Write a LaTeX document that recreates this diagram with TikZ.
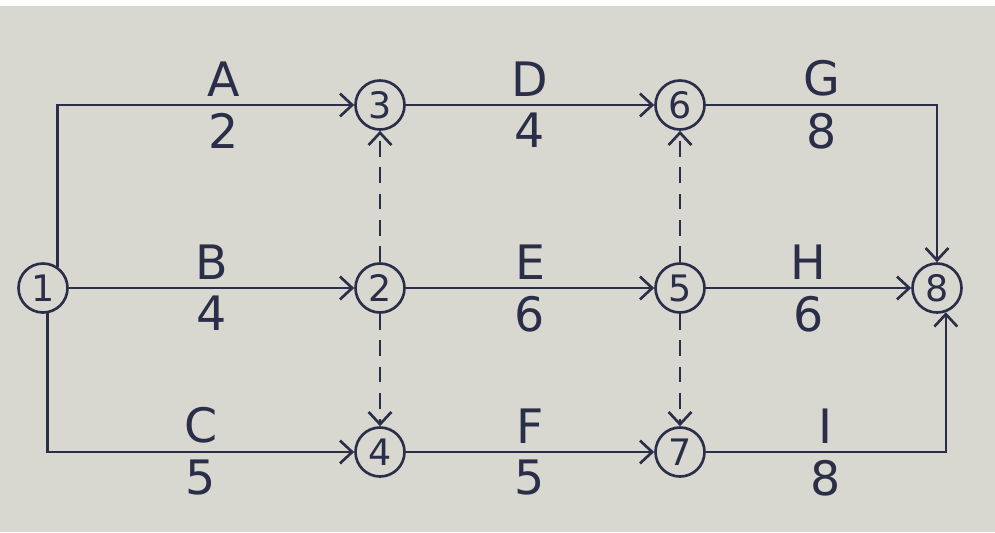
\documentclass[tikz,border=0pt]{standalone}
\usepackage{fontspec}
\setmainfont{DejaVu Sans}
\usetikzlibrary{arrows.meta}
\definecolor{ink}{RGB}{42,46,72}
\definecolor{paper}{RGB}{216,215,208}
\tikzstyle{event} = [circle, draw, line width=1.5pt, minimum size=0.98cm,
    inner sep=0pt, font=\huge]
\tikzstyle{activity} = [draw, ->, >={Straight Barb[length=7pt,width=13pt]},
    line width=1.5pt]
\tikzstyle{dummy} = [activity, dash pattern=on 9pt off 6pt]
\tikzstyle{lbl} = [font=\fontsize{27}{30}\selectfont, inner sep=4pt]

\begin{document}
\begin{tikzpicture}[color=ink]
\fill [paper] (0,0) rectangle (19.9,10.64);
\fill [white] (0,10.52) rectangle (19.9,10.64);
\useasboundingbox (0,0) rectangle (19.9,10.64);

\node [event] at (0.86,4.88) (n1) {1};
\node [event] at (7.6,4.88) (n2) {2};
\node [event] at (7.6,8.54) (n3) {3};
\node [event] at (7.6,1.6) (n4) {4};
\node [event] at (13.6,4.88) (n5) {5};
\node [event] at (13.6,8.54) (n6) {6};
\node [event] at (13.6,1.6) (n7) {7};
\node [event] at (18.74,4.88) (n8) {8};

\draw [activity] (n1.55) |- (n3)
    node [lbl, above, pos=0.78] {A} node [lbl, below, pos=0.78] {2};
\draw [activity] (n1) -- (n2)
    node [lbl, above, midway] {B} node [lbl, below, midway] {4};
\draw [activity] (n1.-80) |- (n4)
    node [lbl, above, pos=0.75] {C} node [lbl, below, pos=0.75] {5};
\draw [activity] (n3) -- (n6)
    node [lbl, above, midway] {D} node [lbl, below, midway] {4};
\draw [activity] (n2) -- (n5)
    node [lbl, above, midway] {E} node [lbl, below, midway] {6};
\draw [activity] (n4) -- (n7)
    node [lbl, above, midway] {F} node [lbl, below, midway] {5};
\draw [activity] (n6) -| (n8)
    node [lbl, above, pos=0.25] {G} node [lbl, below, pos=0.25] {8};
\draw [activity] (n5) -- (n8)
    node [lbl, above, midway] {H} node [lbl, below, midway] {6};
\draw [activity] (n7) -| (n8.-70)
    node [lbl, above, pos=0.25] {I} node [lbl, below, pos=0.25] {8};

\draw [dummy] (n2) -- (n3);
\draw [dummy] (n2) -- (n4);
\draw [dummy] (n5) -- (n6);
\draw [dummy] (n5) -- (n7);
\end{tikzpicture}
\end{document}
